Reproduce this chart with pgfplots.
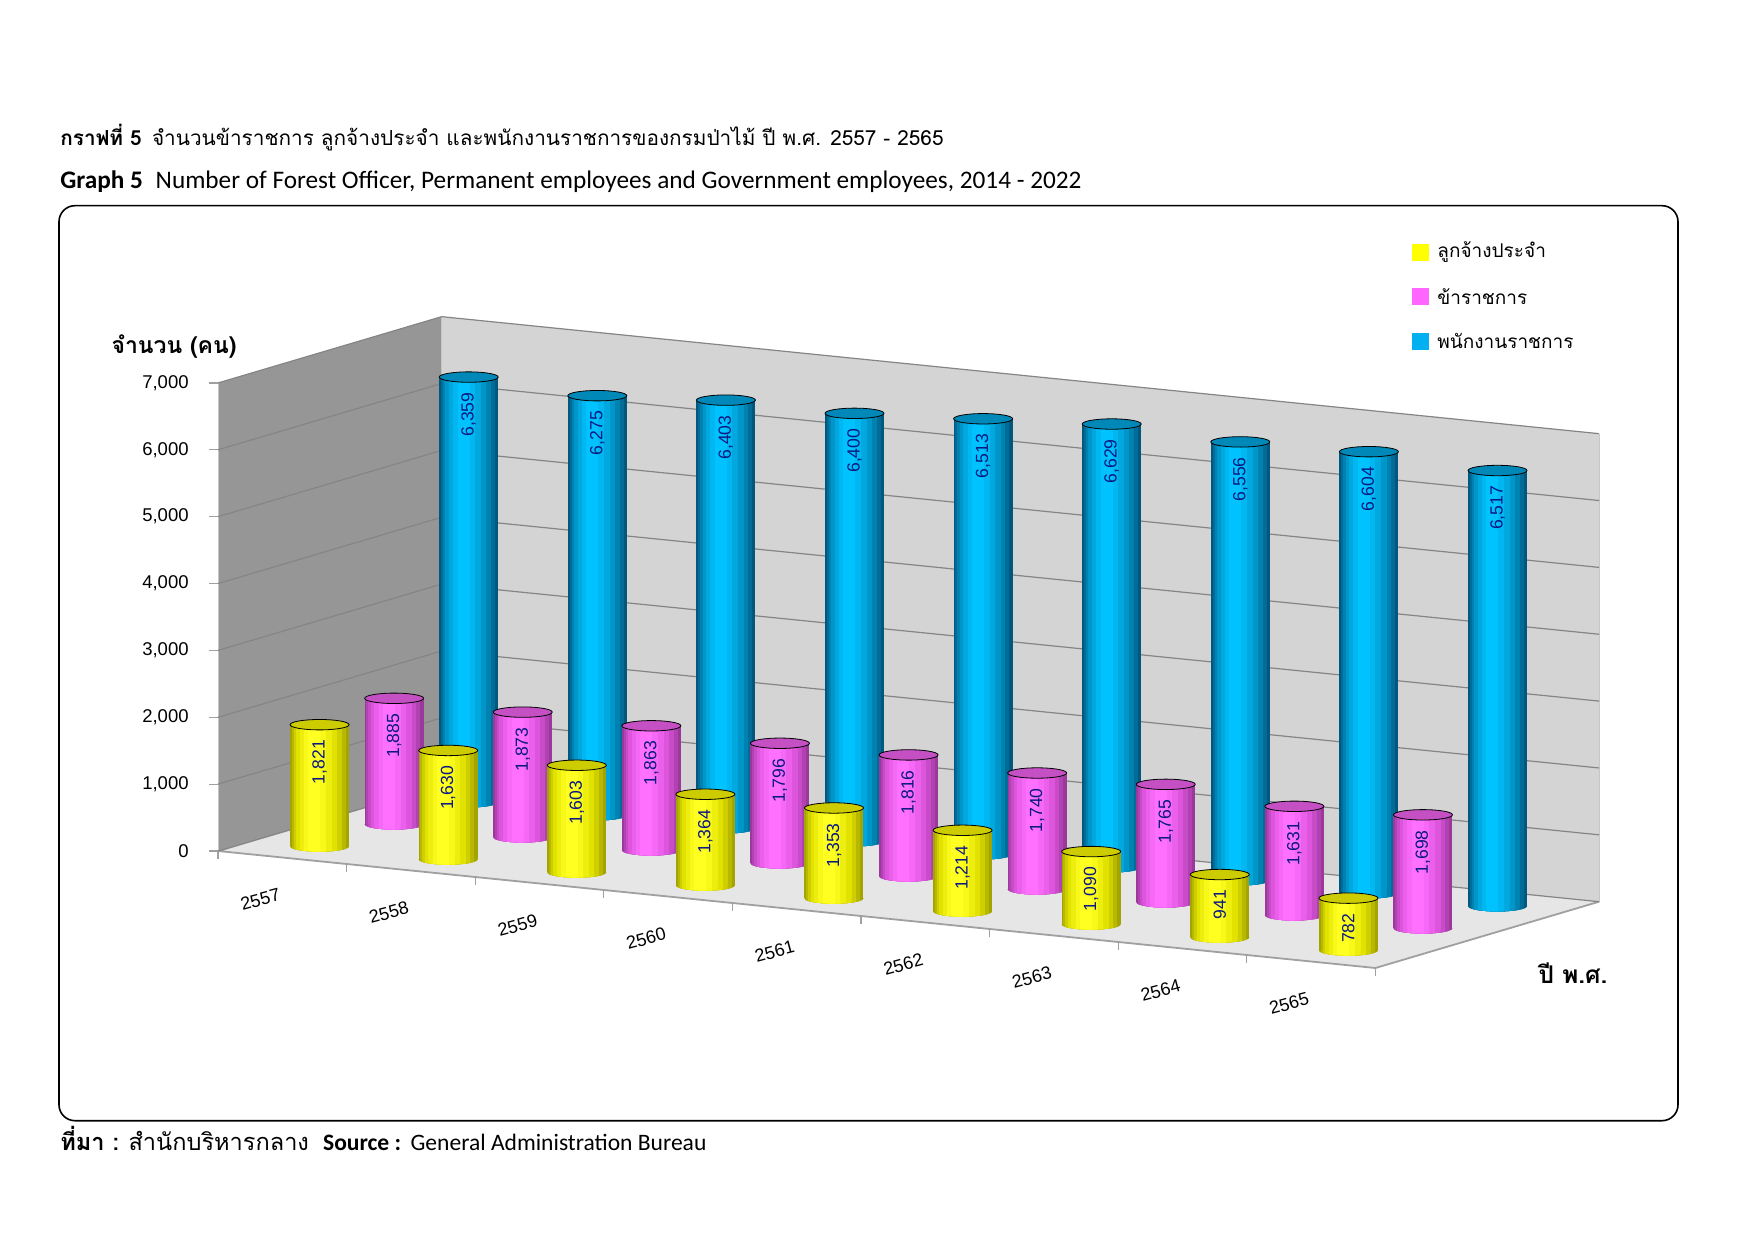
\documentclass[border=0pt]{standalone}
\usepackage{fontspec}
\setmainfont{Liberation Sans}
\newfontfamily\thai[Script=Thai]{Loma}
\newfontfamily\lat{Carlito}
\usepackage{pgfplots}
\usepackage{pgfplotstable}
\pgfplotsset{compat=1.18}
\pgfkeys{/pgf/number format/.cd,1000 sep={,},assume math mode=true}

\definecolor{Ydark}{HTML}{A4A400}
\definecolor{Ymid}{HTML}{E2E200}
\definecolor{Ybri}{HTML}{FFFF22}
\definecolor{Ytop}{HTML}{CCCC00}
\definecolor{Mdark}{HTML}{9C389C}
\definecolor{Mmid}{HTML}{DD55DD}
\definecolor{Mbri}{HTML}{FF70FF}
\definecolor{Mtop}{HTML}{C450C4}
\definecolor{Bdark}{HTML}{00587E}
\definecolor{Bmid}{HTML}{0096CA}
\definecolor{Bbri}{HTML}{00C2FF}
\definecolor{Btop}{HTML}{0088B8}
\definecolor{lwall}{HTML}{969696}
\definecolor{bwall}{HTML}{D4D4D4}
\definecolor{floorc}{HTML}{E6E6E6}
\definecolor{gridc}{HTML}{858585}
\definecolor{edgec}{HTML}{A0A0A0}
\definecolor{labc}{HTML}{0A1A80}
\definecolor{legY}{HTML}{FFFF00}
\definecolor{legM}{HTML}{FF66FF}
\definecolor{legB}{HTML}{00B0F0}

% x = category centre, y = depth row, z = value, b = base
\pgfplotstableread{
x y z b
0.5 0.5 1821 0
1.5 0.5 1630 0
2.5 0.5 1603 0
3.5 0.5 1364 0
4.5 0.5 1353 0
5.5 0.5 1214 0
6.5 0.5 1090 0
7.5 0.5 941 0
8.5 0.5 782 0
}\tyel
\pgfplotstableread{
x y z b
0.5 1.5 1885 0
1.5 1.5 1873 0
2.5 1.5 1863 0
3.5 1.5 1796 0
4.5 1.5 1816 0
5.5 1.5 1740 0
6.5 1.5 1765 0
7.5 1.5 1631 0
8.5 1.5 1698 0
}\tmag
\pgfplotstableread{
x y z b
0.5 2.5 6359 0
1.5 2.5 6275 0
2.5 2.5 6403 0
3.5 2.5 6400 0
4.5 2.5 6513 0
5.5 2.5 6629 0
6.5 2.5 6556 0
7.5 2.5 6604 0
8.5 2.5 6517 0
}\tblu

% bottom of a cylinder stripe: lower half of the full base ellipse, clipped to the stripe
\newcommand\defcylmark[3]{%
 \pgfdeclareplotmark{#1}{%
  \begin{pgfscope}
  \pgfpathrectangle{\pgfqpoint{#2}{-3pt}}{\pgfqpoint{#3}{3.05pt}}\pgfusepath{clip}%
  \pgfpathellipse{\pgfpointorigin}{\pgfqpoint{14.75pt}{0pt}}{\pgfqpoint{0pt}{2.6pt}}\pgfusepath{fill}%
  \end{pgfscope}}}
\defcylmark{cb1}{-14.75pt}{29.5pt}
\defcylmark{cb2}{-13.9pt}{27pt}
\defcylmark{cb3}{-12.9pt}{24pt}
\defcylmark{cb4}{-11.65pt}{20.5pt}
\defcylmark{cb5}{-9.9pt}{16pt}
\defcylmark{cb6}{-7.8pt}{11pt}
\defcylmark{cb7}{-5.6pt}{6pt}

\pgfplotsset{
  cylbody/.style n args={3}{forget plot, mark=none, draw=none,
    error bars/.cd, z dir=minus, z fixed relative=1, error mark=none,
    error bar style={draw=#1, line width=#2, xshift=#3}},
  cylbase/.style 2 args={forget plot, only marks, mark=#2,
    mark options={fill=#1, draw=none}},
}

% #1 table, #2 dark, #3 mid, #4 bright, #5 top
\newcommand\cylrow[5]{%
 \addplot3[cylbase={#2}{cb1}] table[x=x,y=y,z=b]{#1};
 \addplot3[cylbase={#2!67!#3}{cb2}] table[x=x,y=y,z=b]{#1};
 \addplot3[cylbase={#2!33!#3}{cb3}] table[x=x,y=y,z=b]{#1};
 \addplot3[cylbase={#3}{cb4}] table[x=x,y=y,z=b]{#1};
 \addplot3[cylbase={#3!60!#4}{cb5}] table[x=x,y=y,z=b]{#1};
 \addplot3[cylbase={#3!25!#4}{cb6}] table[x=x,y=y,z=b]{#1};
 \addplot3[cylbase={#4}{cb7}] table[x=x,y=y,z=b]{#1};
 \addplot3[cylbody={#2}{29.5pt}{0pt}] table[x=x,y=y,z=z]{#1};
 \addplot3[cylbody={#2!67!#3}{27pt}{-0.4pt}] table[x=x,y=y,z=z]{#1};
 \addplot3[cylbody={#2!33!#3}{24pt}{-0.9pt}] table[x=x,y=y,z=z]{#1};
 \addplot3[cylbody={#3}{20.5pt}{-1.4pt}] table[x=x,y=y,z=z]{#1};
 \addplot3[cylbody={#3!60!#4}{16pt}{-1.9pt}] table[x=x,y=y,z=z]{#1};
 \addplot3[cylbody={#3!25!#4}{11pt}{-2.3pt}] table[x=x,y=y,z=z]{#1};
 \addplot3[cylbody={#4}{6pt}{-2.6pt}] table[x=x,y=y,z=z]{#1};
 \addplot3[forget plot, only marks, mark=*, mark size=14.75pt, mark options={yscale=0.1763, fill=#5, draw=none},
   point meta=z, nodes near coords={\pgfmathprintnumber{\pgfplotspointmeta}},
   every node near coord/.append style={rotate=90, anchor=east, inner xsep=7.5pt, inner ysep=0pt,
     font=\fontsize{8.8}{10}\selectfont, text=labc}] table[x=x,y=y,z=z]{#1};
}

\begin{document}
\begin{tikzpicture}
\begin{axis}[
  set layers,
  clip marker paths=true,
  x={(64.3pt,-6.5pt)}, y={(37.28pt,11.05pt)}, z={(0pt,0.03343pt)},
  xmin=0, xmax=9, ymin=0, ymax=3, zmin=0, zmax=7000,
  clip=false,
  axis line style={draw=none},
  major tick length=0pt,
  ztick={0,1000,...,7000},
  xtick={0.5,1.5,...,8.5},
  xticklabels={2557,2558,2559,2560,2561,2562,2563,2564,2565},
  ytick=\empty,
  zmajorgrids=true, xmajorgrids=false, ymajorgrids=false,
  grid style={gridc, line width=0.6pt},
  xticklabel style={font=\fontsize{9}{10}\selectfont, xshift=-11pt, yshift=-21pt, rotate=15, anchor=center, inner sep=0pt},
  zticklabel style={font=\fontsize{9.25}{10}\selectfont, anchor=east, inner sep=0pt, xshift=-14.5pt},
]
\coordinate (O) at (axis cs:0,0,0);
\begin{pgfonlayer}{axis background}
 \fill[lwall] (axis cs:0,0,0) -- (axis cs:0,3,0) -- (axis cs:0,3,7000) -- (axis cs:0,0,7000) -- cycle;
 \fill[bwall] (axis cs:0,3,0) -- (axis cs:9,3,0) -- (axis cs:9,3,7000) -- (axis cs:0,3,7000) -- cycle;
 \fill[floorc] (axis cs:0,0,0) -- (axis cs:9,0,0) -- (axis cs:9,3,0) -- (axis cs:0,3,0) -- cycle;
 \draw[edgec, line width=0.9pt] (axis cs:0,3,0) -- (axis cs:0,0,0) -- (axis cs:9,0,0) -- (axis cs:9,3,0);
 \draw[edgec!60, line width=0.5pt] (axis cs:0,0,0) -- (axis cs:0,0,7000);
 \draw[edgec!60, line width=0.5pt] (axis cs:9,3,0) -- (axis cs:9,3,7000);
 \pgfplotsinvokeforeach{0,1,2,3,4,5,6,7,8,9}{\draw[edgec, line width=0.6pt] (axis cs:#1,0,0) -- ++(0pt,-4pt);}
 \pgfplotsinvokeforeach{0,1000,2000,3000,4000,5000,6000,7000}{\draw[edgec, line width=0.6pt] (axis cs:0,0,#1) -- ++(-4.5pt,0pt);}
\end{pgfonlayer}
\cylrow{\tblu}{Bdark}{Bmid}{Bbri}{Btop}
\cylrow{\tmag}{Mdark}{Mmid}{Mbri}{Mtop}
\cylrow{\tyel}{Ydark}{Ymid}{Ybri}{Ytop}
\end{axis}
\begin{scope}[shift={(O)}]
\begin{scope}[shift={(-109pt,425.5pt)}, x=0.5pt, y=-0.5pt]
 % frame
 \draw[line width=0.8pt, rounded corners=8pt] (59,205.7) rectangle (1678,1120.7);
 % titles
 \node[anchor=west, inner sep=0pt] at (60,138) {\resizebox{441.5pt}{!}{{\thai\bfseries กราฟที่ 5}\hspace{5pt}{\thai จำนวนข้าราชการ ลูกจ้างประจำ และพนักงานราชการของกรมป่าไม้ ปี พ.ศ. 2557 - 2565}}};
 \node[anchor=west, inner sep=0pt] at (60,182) {\resizebox{510.5pt}{!}{{\lat\bfseries Graph 5}\hspace{5pt}{\lat Number of Forest Officer, Permanent employees and Government employees, 2014 - 2022}}};
 % source
 \node[anchor=west, inner sep=0pt] at (60,1138) {\resizebox{323pt}{!}{{\thai\bfseries ที่มา :}\hspace{4pt}{\thai สำนักบริหารกลาง}\hspace{6pt}{\lat\bfseries Source :}\hspace{4pt}{\lat General Administration Bureau}}};
 % axis titles
 \node[inner sep=0pt] at (174,347) {\thai\bfseries\fontsize{11.5}{13}\selectfont จำนวน (คน)};
 \node[inner sep=0pt] at (1573,973) {\thai\bfseries\fontsize{12.2}{13}\selectfont ปี พ.ศ.};
 % legend
 \fill[legY] (1412,244) rectangle (1429,261);
 \fill[legM] (1412,288) rectangle (1429,305);
 \fill[legB] (1412,333) rectangle (1429,350);
 \node[anchor=west, inner sep=0pt] at (1437,252) {\thai\fontsize{9.5}{12}\selectfont ลูกจ้างประจำ};
 \node[anchor=west, inner sep=0pt] at (1437,296.5) {\thai\fontsize{9.5}{12}\selectfont ข้าราชการ};
 \node[anchor=west, inner sep=0pt] at (1437,341) {\thai\fontsize{9.5}{12}\selectfont พนักงานราชการ};
 \pgfresetboundingbox
 \path[use as bounding box] (0,0) rectangle (1755,1241);
\end{scope}
\end{scope}
\end{tikzpicture}
\end{document}
